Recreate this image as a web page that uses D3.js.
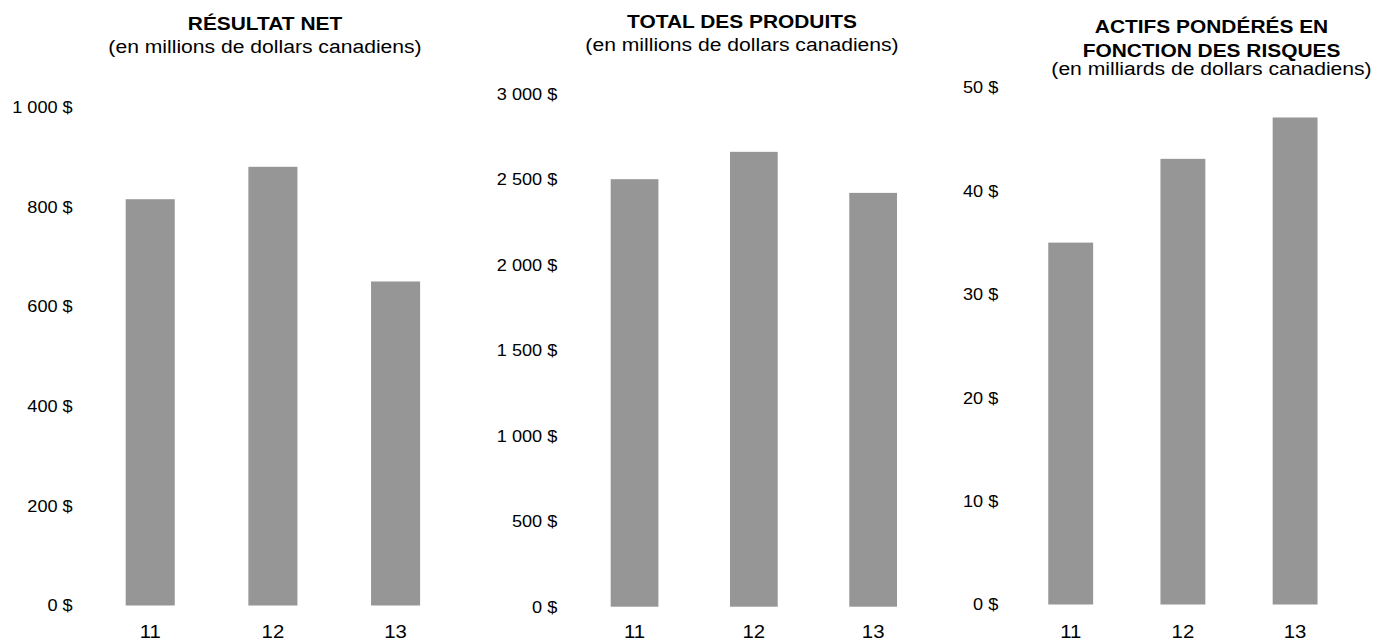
<!DOCTYPE html>
<html>
<head>
<meta charset="utf-8">
<script src="https://cdn.jsdelivr.net/npm/d3@7"></script>
<style>
html,body{margin:0;padding:0;background:#fff;}
svg{display:block;font-family:"Liberation Sans",Arial,Helvetica,sans-serif;}
</style>
</head>
<body>
<svg id="chart" width="1375" height="639"></svg>
<script>
// ---- data ----
const categories = ["11", "12", "13"];
const netIncome = [815, 880, 650];          // millions CAD
const totalRevenue = [2500, 2660, 2420];    // millions CAD
const rwa = [35, 43.1, 47.1];               // billions CAD
const netIncomeTicks = [0, 200, 400, 600, 800, 1000];
const revenueTicks = [0, 500, 1000, 1500, 2000, 2500, 3000];
const rwaTicks = [0, 10, 20, 30, 40, 50];
const titles1 = ["RÉSULTAT NET"];
const titles2 = ["TOTAL DES PRODUITS"];
const titles3 = ["ACTIFS PONDÉRÉS EN", "FONCTION DES RISQUES"];
const sub1 = "(en millions de dollars canadiens)";
const sub2 = "(en millions de dollars canadiens)";
const sub3 = "(en milliards de dollars canadiens)";

// ---- rendering ----
const svg = d3.select("#chart");
const SX = 1.1;
const loc = d3.formatLocale({decimal: ",", thousands: "\u00a0", grouping: [3], currency: ["", " $"]});
const fmt = v => loc.format(",d")(v) + " $";
const barColor = "#969696";

function txt(g, x, y, s, opts) {
  const t = g.append("g").attr("transform", `translate(${x},${y}) scale(${SX},1)`)
    .append("text")
    .attr("text-anchor", opts.anchor || "middle")
    .attr("font-size", opts.size)
    .attr("font-weight", opts.weight || "normal")
    .attr("fill", "#000")
    .text(s);
  return t;
}

const panels = [
  {vals: netIncome, ticks: netIncomeTicks, max: 1000, y0: 605.5, y1: 107, x0: 88.9, x1: 456.9,
   labelX: 72.7, cx: 265, titles: titles1, titleY: 30, sub: sub1, subY: 52.7},
  {vals: totalRevenue, ticks: revenueTicks, max: 3000, y0: 606.7, y1: 93.7, x0: 574.9, x1: 932.8,
   labelX: 557.3, cx: 742, titles: titles2, titleY: 28.3, sub: sub2, subY: 51},
  {vals: rwa, ticks: rwaTicks, max: 50, y0: 604.5, y1: 87.5, x0: 1014.6, x1: 1351.2,
   labelX: 998.3, cx: 1211.5, titles: titles3, titleY: 33.3, sub: sub3, subY: 74.7}
];

panels.forEach(p => {
  const g = svg.append("g");
  const x = d3.scaleBand().domain(categories).range([p.x0, p.x1]).paddingInner(0.6).paddingOuter(0.3);
  const y = d3.scaleLinear().domain([0, p.max]).range([p.y0, p.y1]);

  // bars
  g.selectAll("rect").data(p.vals).join("rect")
    .attr("x", (d, i) => x(categories[i]))
    .attr("width", x.bandwidth())
    .attr("y", d => y(d))
    .attr("height", d => y(0) - y(d))
    .attr("fill", barColor);

  // y tick labels
  p.ticks.forEach(t => {
    txt(g, p.labelX, y(t) + 5.9, fmt(t), {size: 16.5, anchor: "end"});
  });

  // category labels
  categories.forEach(c => {
    txt(g, x(c) + x.bandwidth() / 2, 637.8, c, {size: 18.5});
  });

  // titles
  p.titles.forEach((t, i) => {
    txt(g, p.cx, p.titleY + i * 23.4, t, {size: 19, weight: "bold"});
  });
  txt(g, p.cx, p.subY, p.sub, {size: 19.2});
});
</script>
</body>
</html>
